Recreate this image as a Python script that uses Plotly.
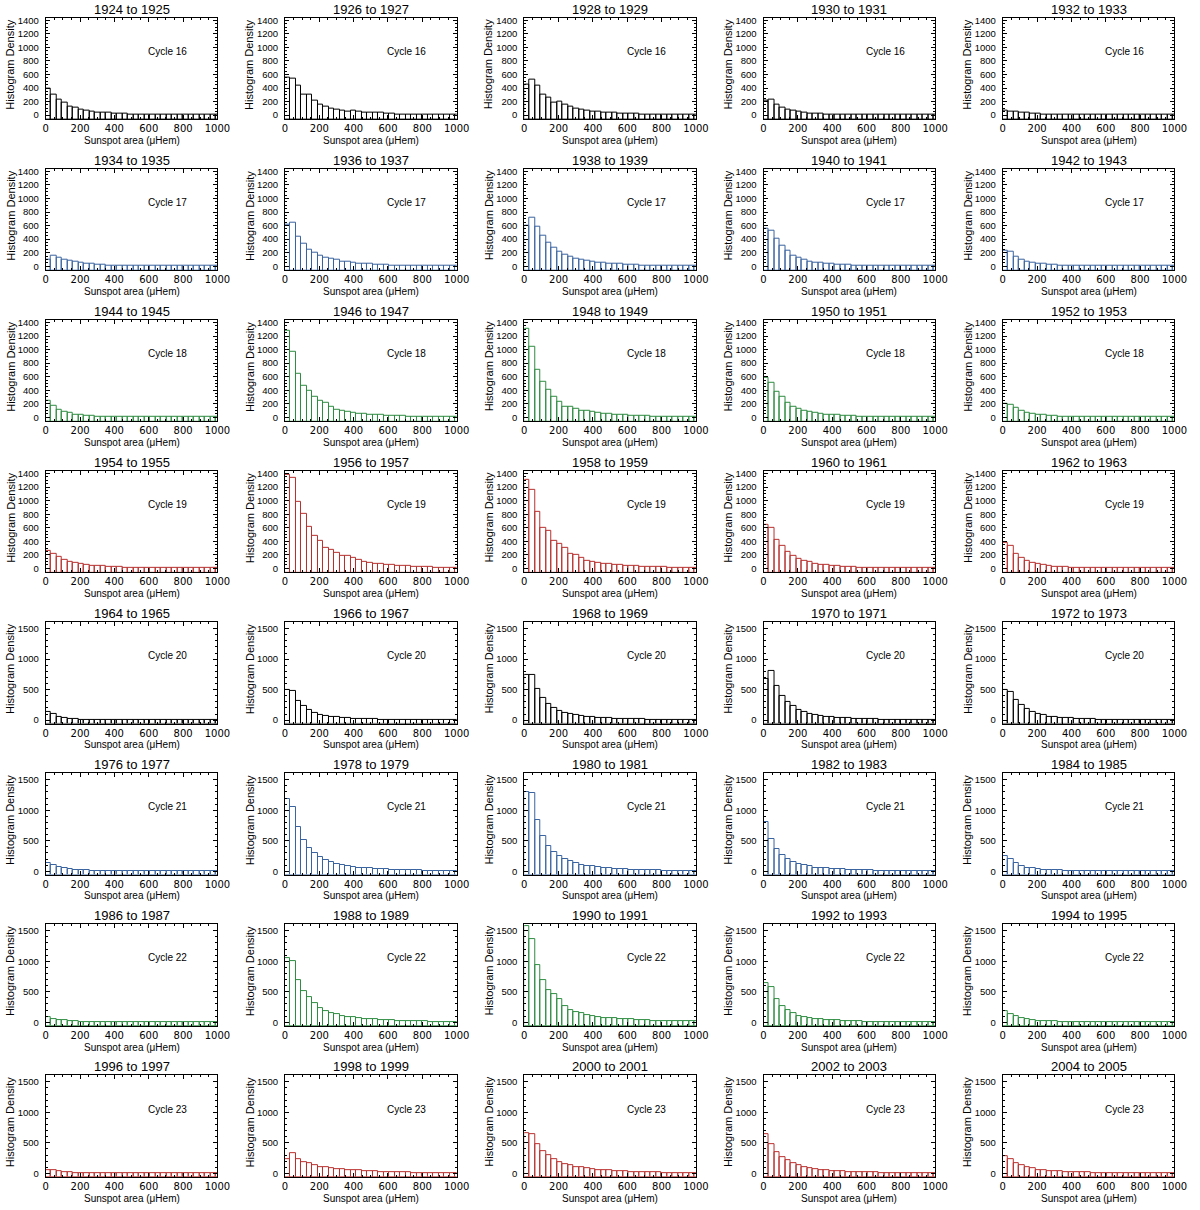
import plotly.graph_objects as go

# ---------------- data ----------------
PERIODS = [
    "1924 to 1925", "1926 to 1927", "1928 to 1929", "1930 to 1931", "1932 to 1933",
    "1934 to 1935", "1936 to 1937", "1938 to 1939", "1940 to 1941", "1942 to 1943",
    "1944 to 1945", "1946 to 1947", "1948 to 1949", "1950 to 1951", "1952 to 1953",
    "1954 to 1955", "1956 to 1957", "1958 to 1959", "1960 to 1961", "1962 to 1963",
    "1964 to 1965", "1966 to 1967", "1968 to 1969", "1970 to 1971", "1972 to 1973",
    "1976 to 1977", "1978 to 1979", "1980 to 1981", "1982 to 1983", "1984 to 1985",
    "1986 to 1987", "1988 to 1989", "1990 to 1991", "1992 to 1993", "1994 to 1995",
    "1996 to 1997", "1998 to 1999", "2000 to 2001", "2002 to 2003", "2004 to 2005",
]
ROW_CYCLES = [16, 17, 18, 19, 20, 21, 22, 23]
BIN_WIDTH = 32  # microHem

# Cycle 16
H_1924 = [390, 300, 230, 190, 130, 110, 80, 60, 50, 40, 35, 30, 25, 25, 20, 15, 15, 12, 10, 10, 8, 8, 6, 6, 5, 5, 4, 4, 3, 3, 3, 3]
H_1926 = [560, 540, 440, 300, 300, 210, 150, 120, 100, 80, 70, 55, 65, 50, 40, 35, 30, 30, 25, 20, 15, 12, 10, 10, 8, 8, 6, 6, 5, 5, 5, 5]
H_1928 = [450, 530, 430, 310, 260, 190, 200, 150, 130, 100, 80, 60, 55, 45, 40, 35, 30, 28, 25, 22, 18, 15, 12, 10, 10, 12, 8, 8, 6, 6, 5, 5]
H_1930 = [220, 225, 150, 110, 80, 60, 45, 35, 28, 22, 18, 15, 12, 10, 8, 8, 6, 5, 5, 4, 3, 3, 3, 2, 2, 2, 2, 2, 1, 1, 1, 1]
H_1932 = [60, 55, 50, 40, 35, 25, 20, 15, 12, 10, 8, 6, 5, 5, 4, 3, 3, 2, 2, 2, 2, 1, 1, 1, 1, 1, 1, 1, 1, 1, 1, 1]
# Cycle 17
H_1934 = [90, 150, 130, 100, 80, 60, 50, 40, 30, 25, 20, 15, 12, 10, 8, 6, 5, 4, 4, 3, 3, 2, 2, 2, 2, 1, 1, 1, 1, 1, 1, 1]
H_1936 = [620, 650, 430, 330, 250, 200, 160, 130, 110, 90, 70, 60, 50, 40, 35, 30, 25, 20, 18, 15, 12, 10, 8, 8, 6, 5, 5, 4, 4, 3, 3, 3]
H_1938 = [600, 710, 590, 450, 350, 280, 220, 170, 140, 110, 90, 80, 65, 55, 45, 40, 35, 30, 25, 20, 18, 15, 12, 10, 10, 8, 6, 5, 5, 4, 4, 3]
H_1940 = [560, 520, 400, 300, 230, 160, 120, 90, 70, 55, 45, 40, 30, 25, 20, 18, 15, 12, 10, 8, 6, 5, 5, 4, 4, 3, 3, 2, 2, 2, 2, 2]
H_1942 = [230, 210, 140, 100, 70, 50, 40, 30, 25, 20, 15, 12, 10, 8, 6, 5, 4, 4, 3, 3, 2, 2, 2, 2, 1, 1, 1, 1, 1, 1, 1, 1]
# Cycle 18
H_1944 = [240, 170, 110, 80, 60, 40, 30, 25, 20, 15, 12, 10, 8, 6, 5, 4, 4, 3, 3, 2, 2, 2, 2, 1, 1, 1, 1, 1, 1, 1, 1, 1]
H_1946 = [1280, 970, 650, 470, 390, 310, 240, 210, 160, 110, 90, 80, 70, 55, 45, 40, 35, 30, 25, 22, 20, 18, 15, 12, 10, 10, 8, 8, 6, 6, 5, 5]
H_1948 = [1310, 1040, 700, 530, 400, 300, 230, 160, 150, 120, 100, 90, 80, 60, 50, 45, 40, 35, 30, 25, 22, 20, 18, 15, 12, 10, 10, 8, 8, 6, 6, 5]
H_1950 = [590, 510, 370, 300, 220, 160, 130, 100, 80, 60, 50, 40, 35, 30, 25, 20, 18, 15, 12, 10, 8, 8, 6, 5, 5, 4, 4, 3, 3, 3, 2, 2]
H_1952 = [200, 180, 140, 100, 70, 50, 40, 30, 25, 20, 15, 12, 10, 8, 6, 5, 4, 4, 3, 3, 2, 2, 2, 2, 1, 1, 1, 1, 1, 1, 1, 1]
# Cycle 19
H_1954 = [260, 220, 170, 120, 100, 80, 60, 50, 40, 35, 30, 25, 20, 18, 15, 12, 10, 8, 8, 6, 5, 5, 4, 4, 3, 3, 3, 2, 2, 2, 2, 2]
H_1956 = [1380, 1330, 980, 800, 610, 480, 400, 310, 280, 230, 190, 190, 150, 120, 100, 80, 70, 65, 50, 45, 40, 35, 30, 28, 25, 20, 18, 15, 12, 10, 10, 8]
H_1958 = [1300, 1160, 840, 600, 560, 400, 360, 300, 220, 200, 160, 110, 100, 80, 70, 60, 55, 50, 40, 35, 30, 28, 25, 22, 20, 18, 15, 12, 10, 10, 8, 8]
H_1960 = [640, 600, 420, 330, 250, 180, 140, 110, 90, 70, 55, 45, 40, 30, 25, 20, 18, 15, 12, 10, 8, 8, 6, 5, 5, 4, 4, 3, 3, 3, 2, 2]
H_1962 = [370, 330, 220, 160, 110, 80, 60, 45, 35, 28, 22, 18, 14, 12, 10, 8, 6, 5, 5, 4, 3, 3, 3, 2, 2, 2, 2, 1, 1, 1, 1, 1]
# Cycle 20
H_1964 = [130, 100, 60, 40, 25, 15, 10, 8, 6, 5, 4, 3, 3, 2, 2, 2, 1, 1, 1, 1, 1, 1, 1, 1, 1, 1, 1, 1, 1, 1, 1, 1]
H_1966 = [500, 480, 320, 230, 160, 120, 90, 70, 55, 45, 35, 30, 25, 20, 18, 15, 12, 10, 8, 8, 6, 5, 5, 4, 4, 3, 3, 3, 2, 2, 2, 2]
H_1968 = [740, 740, 520, 360, 260, 200, 150, 120, 100, 80, 65, 55, 45, 40, 35, 30, 25, 22, 20, 18, 15, 12, 10, 10, 8, 8, 6, 6, 5, 5, 4, 4]
H_1970 = [680, 800, 560, 390, 300, 230, 170, 130, 100, 85, 70, 55, 45, 40, 35, 30, 25, 20, 18, 15, 12, 10, 10, 8, 8, 6, 6, 5, 5, 4, 4, 4]
H_1972 = [500, 470, 330, 250, 180, 140, 100, 80, 60, 50, 40, 35, 30, 25, 20, 15, 12, 10, 8, 6, 5, 5, 4, 4, 3, 3, 3, 2, 2, 2, 2, 2]
# Cycle 21
H_1976 = [140, 100, 70, 50, 35, 25, 18, 12, 10, 8, 6, 5, 4, 3, 3, 2, 2, 2, 1, 1, 1, 1, 1, 1, 1, 1, 1, 1, 1, 1, 1, 1]
H_1978 = [1180, 1060, 720, 520, 380, 300, 240, 180, 150, 120, 100, 80, 70, 60, 50, 45, 40, 35, 30, 25, 22, 20, 18, 15, 12, 10, 10, 8, 8, 6, 6, 5]
H_1980 = [1300, 1280, 840, 580, 420, 310, 250, 200, 160, 130, 110, 90, 80, 70, 60, 50, 40, 35, 30, 28, 25, 20, 18, 15, 12, 10, 10, 8, 8, 6, 6, 5]
H_1982 = [800, 530, 360, 260, 200, 150, 120, 100, 80, 60, 50, 45, 40, 35, 30, 25, 20, 18, 15, 12, 10, 8, 8, 6, 6, 5, 5, 4, 4, 3, 3, 3]
H_1984 = [250, 200, 130, 90, 60, 45, 35, 25, 20, 15, 12, 10, 8, 6, 5, 4, 4, 3, 3, 2, 2, 2, 2, 1, 1, 1, 1, 1, 1, 1, 1, 1]
# Cycle 22
H_1986 = [80, 60, 40, 30, 20, 15, 10, 8, 6, 5, 4, 3, 3, 2, 2, 2, 1, 1, 1, 1, 1, 1, 1, 1, 1, 1, 1, 1, 1, 1, 1, 1]
H_1988 = [1060, 1000, 700, 520, 410, 320, 240, 180, 150, 130, 110, 90, 80, 70, 60, 50, 45, 40, 35, 30, 25, 22, 20, 18, 15, 12, 10, 10, 8, 8, 6, 6]
H_1990 = [1580, 1370, 930, 700, 530, 470, 380, 260, 200, 160, 150, 120, 110, 80, 70, 75, 65, 55, 50, 45, 40, 35, 30, 28, 25, 22, 20, 18, 15, 15, 25, 20]
H_1992 = [650, 570, 380, 270, 200, 150, 110, 90, 70, 55, 45, 40, 35, 30, 25, 20, 15, 12, 10, 8, 8, 6, 6, 5, 5, 4, 4, 3, 3, 3, 2, 2]
H_1994 = [180, 140, 100, 70, 50, 35, 25, 20, 15, 12, 10, 8, 6, 5, 4, 4, 3, 3, 2, 2, 2, 2, 1, 1, 1, 1, 1, 1, 1, 1, 1, 1]
# Cycle 23
H_1996 = [50, 45, 30, 20, 15, 10, 8, 6, 5, 4, 3, 3, 2, 2, 2, 1, 1, 1, 1, 1, 1, 1, 1, 1, 1, 1, 1, 1, 1, 1, 1, 1]
H_1998 = [230, 330, 240, 190, 160, 130, 110, 100, 85, 70, 65, 55, 50, 45, 40, 35, 30, 25, 22, 20, 18, 15, 12, 10, 10, 8, 8, 6, 6, 5, 5, 4]
H_2000 = [660, 640, 480, 370, 300, 240, 190, 150, 130, 110, 95, 80, 70, 60, 50, 45, 40, 35, 30, 25, 22, 20, 18, 15, 12, 10, 10, 8, 8, 6, 6, 5]
H_2002 = [640, 480, 350, 270, 220, 170, 130, 100, 80, 65, 55, 45, 40, 35, 30, 25, 22, 20, 18, 15, 12, 10, 10, 8, 8, 6, 6, 5, 5, 4, 4, 4]
H_2004 = [280, 230, 170, 130, 100, 80, 60, 50, 40, 35, 30, 25, 20, 18, 15, 12, 10, 8, 8, 6, 5, 5, 4, 4, 3, 3, 3, 2, 2, 2, 2, 2]

PANEL_HEIGHTS = [
    H_1924, H_1926, H_1928, H_1930, H_1932,
    H_1934, H_1936, H_1938, H_1940, H_1942,
    H_1944, H_1946, H_1948, H_1950, H_1952,
    H_1954, H_1956, H_1958, H_1960, H_1962,
    H_1964, H_1966, H_1968, H_1970, H_1972,
    H_1976, H_1978, H_1980, H_1982, H_1984,
    H_1986, H_1988, H_1990, H_1992, H_1994,
    H_1996, H_1998, H_2000, H_2002, H_2004,
]

X_TICKS = [0, 200, 400, 600, 800, 1000]
Y_TICKS_TOP = [0, 200, 400, 600, 800, 1000, 1200, 1400]
Y_TICKS_BOTTOM = [0, 500, 1000, 1500]

# ---------------- styling ----------------
W, H = 1200, 1210
FONT = "Liberation Sans, Arial, Helvetica, sans-serif"
TICKFONT_X = "DejaVu Sans, Liberation Sans, Arial, sans-serif"
TICKFONT_Y = "Liberation Sans, Arial, sans-serif"
CYCLE_COLORS = {16: "#000000", 20: "#000000",
                17: "#3a64a0", 21: "#3a64a0",
                18: "#2e8c40", 22: "#2e8c40",
                19: "#b8302e", 23: "#b8302e"}
YR_TOP = [-60, 1440]
YR_BOTTOM = [-55, 1610]

LEFT0, COL_STEP, PW = 43.3, 242.5, 174.0
TOP0, ROW_STEP, PH = 14.7, 151.7, 102.0


def px(xp):
    return xp / W


def py(yp):
    return 1 - yp / H


fig = go.Figure()
annotations = []
layout_axes = {}

for k, heights in enumerate(PANEL_HEIGHTS):
    r, c = divmod(k, 5)
    cycle = ROW_CYCLES[r]
    color = CYCLE_COLORS[cycle]
    yr = YR_TOP if r < 4 else YR_BOTTOM
    yt = Y_TICKS_TOP if r < 4 else Y_TICKS_BOTTOM
    ymin_minor = 50 if r < 4 else 100
    left = LEFT0 + c * COL_STEP
    top = TOP0 + r * ROW_STEP
    n = k + 1
    xa = "x" if n == 1 else f"x{n}"
    ya = "y" if n == 1 else f"y{n}"

    centers = [BIN_WIDTH * (i + 0.5) for i in range(len(heights))]
    fig.add_trace(go.Bar(
        x=centers, y=[h - yr[0] for h in heights], base=yr[0], width=BIN_WIDTH,
        marker=dict(color="rgba(0,0,0,0)", line=dict(color=color, width=1)),
        xaxis=xa, yaxis=ya, showlegend=False,
        customdata=heights, hovertemplate="%{customdata}<extra></extra>",
    ))

    layout_axes["xaxis" if n == 1 else f"xaxis{n}"] = dict(
        domain=[px(left), px(left + PW)], anchor=ya, range=[0, 1000],
        tickvals=X_TICKS, ticks="inside", ticklen=4, tickcolor="black",
        minor=dict(dtick=50, ticks="inside", ticklen=2, tickcolor="black"),
        showline=True, linecolor="black", linewidth=1, mirror="allticks",
        showgrid=False, zeroline=False, fixedrange=True,
        tickfont=dict(family=TICKFONT_X, size=10, color="black"),
        ticklabelstandoff=0,
    )
    layout_axes["yaxis" if n == 1 else f"yaxis{n}"] = dict(
        domain=[py(top + PH), py(top)], anchor=xa, range=yr,
        tickvals=yt, ticks="inside", ticklen=4, tickcolor="black",
        minor=dict(dtick=ymin_minor, ticks="inside", ticklen=2, tickcolor="black"),
        showline=True, linecolor="black", linewidth=1, mirror="allticks",
        showgrid=False, zeroline=False, fixedrange=True,
        tickfont=dict(family=TICKFONT_Y, size=9.5, color="black"),
        ticklabelstandoff=4,
    )

    # panel title
    annotations.append(dict(text=PERIODS[k], x=px(left + PW / 2), y=py(top - 8.5),
                            xref="paper", yref="paper", showarrow=False,
                            xanchor="center", yanchor="middle",
                            font=dict(family=FONT, size=13, color="black")))
    # x title
    annotations.append(dict(text="Sunspot area (\u03bcHem)", x=px(left + PW / 2), y=py(top + PH + 21.5),
                            xref="paper", yref="paper", showarrow=False,
                            xanchor="center", yanchor="middle",
                            font=dict(family=FONT, size=10, color="black")))
    # y title
    annotations.append(dict(text="Histogram Density", x=px(left - 36), y=py(top + 47),
                            xref="paper", yref="paper", showarrow=False, textangle=-90,
                            xanchor="center", yanchor="middle",
                            font=dict(family=FONT, size=11, color="black")))
    # cycle label
    annotations.append(dict(text=f"Cycle {cycle}", x=px(left + 0.71 * PW), y=py(top + 34),
                            xref="paper", yref="paper", showarrow=False,
                            xanchor="center", yanchor="middle",
                            font=dict(family=FONT, size=10, color="black")))

fig.update_layout(
    width=W, height=H,
    margin=dict(l=0, r=0, t=0, b=0),
    paper_bgcolor="white", plot_bgcolor="white",
    bargap=0, barmode="overlay",
    annotations=annotations,
    font=dict(family=FONT, color="black"),
    **layout_axes,
)

fig.write_html(
    "out.html",
    config={"displayModeBar": False},
    post_script="document.body.style.margin='0px';document.body.style.overflow='hidden';",
)
